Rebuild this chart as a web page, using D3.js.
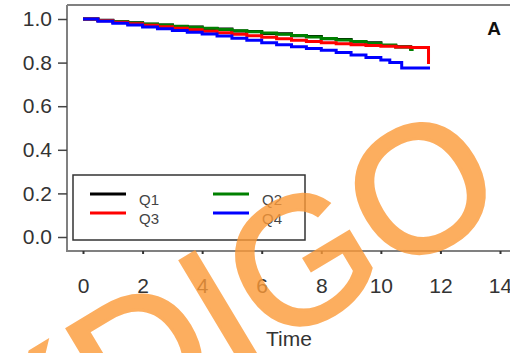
<!DOCTYPE html>
<html>
<head>
<meta charset="utf-8">
<script src="https://cdn.jsdelivr.net/npm/d3@7"></script>
<style>
  html, body { margin: 0; padding: 0; background: #fff; }
  svg { display: block; font-family: "Liberation Sans", Arial, sans-serif; }
</style>
</head>
<body>
<svg width="510" height="353"></svg>
<script>
// survival curves (step functions)
const times = [0, 0.5, 1, 1.5, 2, 2.5, 3, 3.5, 4, 4.5, 5, 5.5, 6, 6.5, 7, 7.5, 8, 8.5, 9, 9.5, 10, 10.5, 11];
const q1 = [1.000, 0.994, 0.987, 0.983, 0.976, 0.973, 0.966, 0.963, 0.956, 0.954, 0.945, 0.943, 0.934, 0.932, 0.923, 0.920, 0.909, 0.906, 0.895, 0.891, 0.879, 0.873, 0.858];
const q2 = [1.000, 0.993, 0.988, 0.982, 0.977, 0.972, 0.967, 0.962, 0.957, 0.952, 0.946, 0.941, 0.936, 0.930, 0.924, 0.918, 0.911, 0.904, 0.897, 0.889, 0.881, 0.872, 0.860];
const q3 = [1.000, 0.992, 0.985, 0.978, 0.971, 0.964, 0.957, 0.951, 0.944, 0.937, 0.930, 0.923, 0.916, 0.909, 0.903, 0.897, 0.891, 0.886, 0.882, 0.878, 0.875, 0.872, 0.869];
const q4 = [1.000, 0.990, 0.981, 0.972, 0.963, 0.955, 0.947, 0.939, 0.931, 0.922, 0.912, 0.902, 0.891, 0.882, 0.873, 0.865, 0.857, 0.846, 0.835, 0.823, 0.812];
// late events after the shared grid: [time, survival]
const q1Tail = [[11.0, 0.858]];
const q2Tail = [[11.1, 0.860]];
const q3Tail = [[11.6, 0.800], [11.65, 0.800]];
const q4Tail = [[10.3, 0.800], [10.7, 0.775], [11.65, 0.775]];

const seriesNames = ["Q1", "Q2", "Q3", "Q4"];
const seriesColors = ["#000000", "#008000", "#ff0000", "#0000ff"];
const xTicks = [0, 2, 4, 6, 8, 10, 12, 14];
const yTicks = [0.0, 0.2, 0.4, 0.6, 0.8, 1.0];

const svg = d3.select("svg");
const W = +svg.attr("width");

const x = d3.scaleLinear().domain([0, 14]).range([83, 500]);
const y = d3.scaleLinear().domain([0, 1]).range([237, 19]);

const frameLeft = 67, frameTop = 5, frameBottom = 251;

// frame (left, top, bottom)
const frame = svg.append("g").attr("stroke", "#808080").attr("stroke-width", 2).attr("fill", "none");
frame.append("line").attr("x1", frameLeft).attr("x2", frameLeft).attr("y1", frameTop).attr("y2", frameBottom + 1);
frame.append("line").attr("x1", frameLeft).attr("x2", W).attr("y1", frameTop).attr("y2", frameTop);
frame.append("line").attr("x1", frameLeft).attr("x2", W).attr("y1", frameBottom).attr("y2", frameBottom);

// y axis
const yAxis = svg.append("g")
    .attr("transform", `translate(${frameLeft},0)`)
    .call(d3.axisLeft(y).tickValues(yTicks).tickFormat(d3.format(".1f")).tickSize(9).tickPadding(6));
yAxis.select(".domain").remove();
yAxis.selectAll("line").attr("stroke", "#444").attr("stroke-width", 1.5);
yAxis.selectAll("text").attr("font-size", "21px").attr("fill", "#333")
    .attr("font-family", "Liberation Sans, Arial, sans-serif");

// x axis
const xAxis = svg.append("g")
    .attr("transform", `translate(0,${frameBottom})`)
    .call(d3.axisBottom(x).tickValues(xTicks).tickFormat(d3.format("d")).tickSize(3).tickPadding(24));
xAxis.select(".domain").remove();
xAxis.selectAll("line").attr("stroke", "#333").attr("stroke-width", 2);
xAxis.selectAll("text").attr("font-size", "21px").attr("fill", "#333")
    .attr("font-family", "Liberation Sans, Arial, sans-serif");

svg.append("text")
    .attr("x", 289).attr("y", 346)
    .attr("text-anchor", "middle")
    .attr("font-size", "21px").attr("fill", "#333")
    .text("Time");

// curves
const line = d3.line()
    .x(d => x(d[0]))
    .y(d => y(d[1]))
    .curve(d3.curveStepAfter);

const allSeries = [
  times.map((t, i) => [t, q1[i]]).concat(q1Tail),
  times.map((t, i) => [t, q2[i]]).concat(q2Tail),
  times.map((t, i) => [t, q3[i]]).concat(q3Tail),
  times.slice(0, q4.length).map((t, i) => [t, q4[i]]).concat(q4Tail)
];

allSeries.forEach((pts, i) => {
  svg.append("path")
    .datum(pts)
    .attr("d", line)
    .attr("fill", "none")
    .attr("stroke", seriesColors[i])
    .attr("stroke-width", 3);
});

// panel label
svg.append("text")
    .attr("x", 494).attr("y", 35)
    .attr("text-anchor", "middle")
    .attr("font-size", "19px").attr("font-weight", "bold")
    .attr("fill", "#111")
    .text("A");

// legend
const legend = svg.append("g");
legend.append("rect")
    .attr("x", 73).attr("y", 175).attr("width", 232).attr("height", 65)
    .attr("fill", "#fff").attr("stroke", "#333").attr("stroke-width", 1.5);

const legendPos = [[90, 194], [213, 194], [90, 213], [213, 213]];
seriesNames.forEach((name, i) => {
  const [lx, ly] = legendPos[i];
  legend.append("line")
    .attr("x1", lx).attr("x2", lx + 36)
    .attr("y1", ly).attr("y2", ly)
    .attr("stroke", seriesColors[i]).attr("stroke-width", 3);
  legend.append("text")
    .attr("x", lx + 49).attr("y", ly + 11)
    .attr("font-size", "15px").attr("fill", "#444")
    .text(name);
});

// watermark
svg.append("text")
    .attr("transform", "translate(264,355) rotate(-31)")
    .attr("text-anchor", "middle")
    .attr("font-size", "180px")
    .attr("fill", "#fc9a38")
    .attr("stroke", "#fc9a38")
    .attr("stroke-width", 3)
    .attr("opacity", 0.8)
    .text("KDIGO");
</script>
</body>
</html>
